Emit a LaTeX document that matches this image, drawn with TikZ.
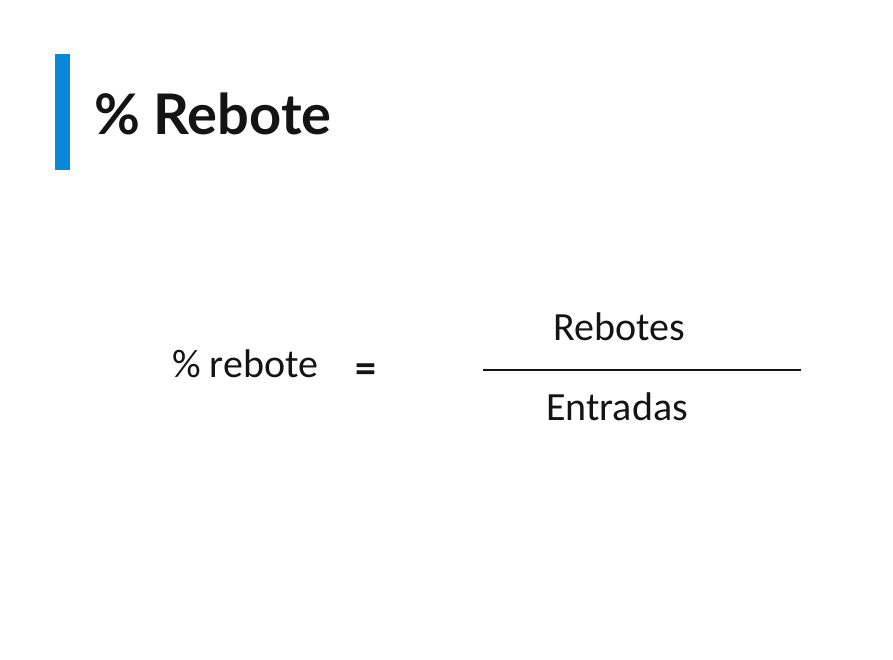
\documentclass[tikz,border=0pt]{standalone}
\usepackage{fontspec}
\setmainfont{Carlito}
\newfontfamily\titlefont{Lato}
\definecolor{barblue}{RGB}{8,136,214}
\definecolor{txt}{RGB}{20,20,20}
\begin{document}
\begin{tikzpicture}[x=1pt,y=-1pt,
  body/.style={font=\fontsize{40}{44}\selectfont, text=txt, inner sep=0pt, anchor=base west},
  ttl/.style={font=\titlefont\bfseries\fontsize{56}{62}\selectfont, text=txt, inner sep=0pt, anchor=base west}]
\useasboundingbox (0,0) rectangle (893,660);
\fill[barblue] (55,54) rectangle (70,170);
\node[ttl] (title) at (94,135) {\% Rebote};
\node[body] (lhs) at (172,377) {\% rebote};
\node[body, font=\bfseries\fontsize{42}{44}\selectfont] (eq) at (355,382) {=};
\coordinate (la) at (483,370);
\coordinate (lb) at (801,370);
\draw[line width=1.3pt, txt] (la) -- (lb);
\node[body, anchor=base] (num) at (619,340) {Rebotes};
\node[body, anchor=base] (den) at (617,420) {Entradas};
\end{tikzpicture}
\end{document}
